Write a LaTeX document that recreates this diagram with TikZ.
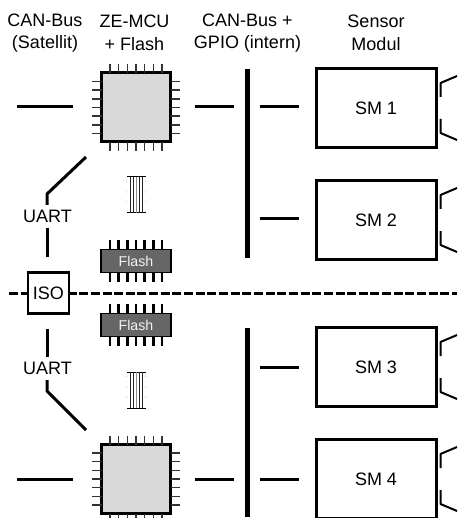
\documentclass[tikz,border=0pt]{standalone}
\usepackage{fontspec}
\setmainfont{Liberation Sans}
\usetikzlibrary{positioning, calc}

\begin{document}
\begin{tikzpicture}[
  x=1pt, y=-1pt,
  every node/.style={font=\fontsize{18}{22.6}\selectfont, inner sep=0pt},
  headlabel/.style={align=center},
  wire/.style={black, line width=3pt},
  busbar/.style={black, line width=5pt},
  pin/.style={black!80, line width=1.6pt},
  flashpin/.style={black, line width=2.8pt},
  chipbox/.style={draw=black, fill=black!15, line width=3pt, minimum width=69pt, minimum height=69pt},
  flashbox/.style={draw=black, fill=black!60, line width=1.6pt, text=black!5, minimum width=69.5pt, minimum height=23pt, font=\fontsize{14.2}{16}\selectfont},
  smbox/.style={draw=black, fill=white, line width=3pt, minimum width=120pt, minimum height=78.5pt},
  isobox/.style={draw=black, fill=white, line width=2.6pt, minimum width=41pt, minimum height=40.5pt}
]
\useasboundingbox (0,0) rectangle (457,518);

% Column headings
\node[headlabel] (headbus) at (45,33) {CAN-Bus\\(Satellit)};
\node[headlabel] (headmcu) at (134.5,33) {ZE-MCU\\+ Flash};
\node[headlabel] (headgpio) at (247.5,33) {CAN-Bus +\\GPIO (intern)};
\node[headlabel] (headsens) at (376,33) {Sensor\\Modul};

% Isolation line
\coordinate (sepleft) at (9.3,293.7);
\coordinate (sepright) at (457,293.7);
\draw[black, line width=2.8pt, dash pattern=on 9pt off 2.65pt] (sepleft) -- (sepright);
\node[isobox] (iso) at (48.3,293) {ISO};

% MCU chips with pins
\foreach \name/\yc in {mcutop/107.5, mcubot/479} {
  \node[chipbox] (\name) at (136,\yc) {};
  \foreach \d in {-26,-17.33,-8.67,0,8.67,17.33,26} {
    \draw[pin] (136+\d,\yc-43.5) -- (136+\d,\yc-34.5);
    \draw[pin] (136+\d,\yc+34.5) -- (136+\d,\yc+43.5);
    \draw[pin] (92,\yc+\d) -- (101.5,\yc+\d);
    \draw[pin] (170.5,\yc+\d) -- (180,\yc+\d);
  }
}

% Flash chips
\foreach \name/\yc in {flashtop/261, flashbot/325} {
  \foreach \d in {-26,-17.33,-8.67,0,8.67,17.33,26} {
    \draw[flashpin] (136+\d,\yc-21) -- (136+\d,\yc+21);
  }
  \node[flashbox] (\name) at (136,\yc) {Flash};
}

% Narrow bundles between MCU and Flash
\foreach \yt/\yb in {177/213, 372/408} {
  \draw[black, line width=1pt] (127,\yt) -- (146,\yt);
  \draw[black, line width=1pt] (127,\yb) -- (146,\yb);
  \foreach \xv in {130.7,133.3,139.3,142.3} {
    \draw[black!85, line width=0.9pt] (\xv,\yt) -- (\xv,\yb);
  }
  \draw[black!45, line width=0.7pt] (136.5,\yt) -- (136.5,\yb);
  \foreach \dy in {4,15,25} {
    \fill[black!35] (126.5,\yt+\dy) circle (0.5pt);
    \fill[black!35] (145.5,\yt+\dy) circle (0.5pt);
  }
}

% Sensor modules
\foreach \name/\txt/\yc in {smone/SM 1/108, smtwo/SM 2/220, smthree/SM 3/367, smfour/SM 4/479} {
  \node[smbox] (\name) at (376,\yc) {\txt};
  \draw[black, line width=2pt, line join=round] (457,\yc-32) -- (440.5,\yc-25) -- (440.5,\yc-11);
  \draw[black, line width=2pt, line join=round] (440.5,\yc+11) -- (440.5,\yc+25) -- (457,\yc+32);
}

% Internal bus bars
\coordinate (bustopa) at (247,69);
\coordinate (bustopb) at (247,258);
\coordinate (busbota) at (247,328);
\coordinate (busbotb) at (247,517);
\draw[busbar] (bustopa) -- (bustopb);
\draw[busbar] (busbota) -- (busbotb);

% Stubs next to the bars
\foreach \yc in {107,219,367,479} {
  \draw[wire] (260,\yc) coordinate (stubl\yc) -- (299,\yc) coordinate (stubr\yc);
}
\foreach \yc in {107,479} {
  \draw[wire] (195,\yc) coordinate (mcur\yc) -- (234,\yc) coordinate (busl\yc);
  \draw[wire] (17,\yc) coordinate (canl\yc) -- (73,\yc) coordinate (canr\yc);
}

% UART links
\node (uarttop) at (47.5,216) {UART};
\node (uartbot) at (47.5,368) {UART};
\coordinate (kneetop) at (47,194);
\coordinate (kneebot) at (47,391);
\coordinate (endtop) at (86,157);
\coordinate (endbot) at (86,430);
\draw[wire, line join=round] (endtop) -- (kneetop) -- (47,205);
\draw[wire] (47,228) -- (47,257);
\draw[wire] (47,329) -- (47,357);
\draw[wire, line join=round] (47,380) -- (kneebot) -- (endbot);

\end{tikzpicture}
\end{document}
